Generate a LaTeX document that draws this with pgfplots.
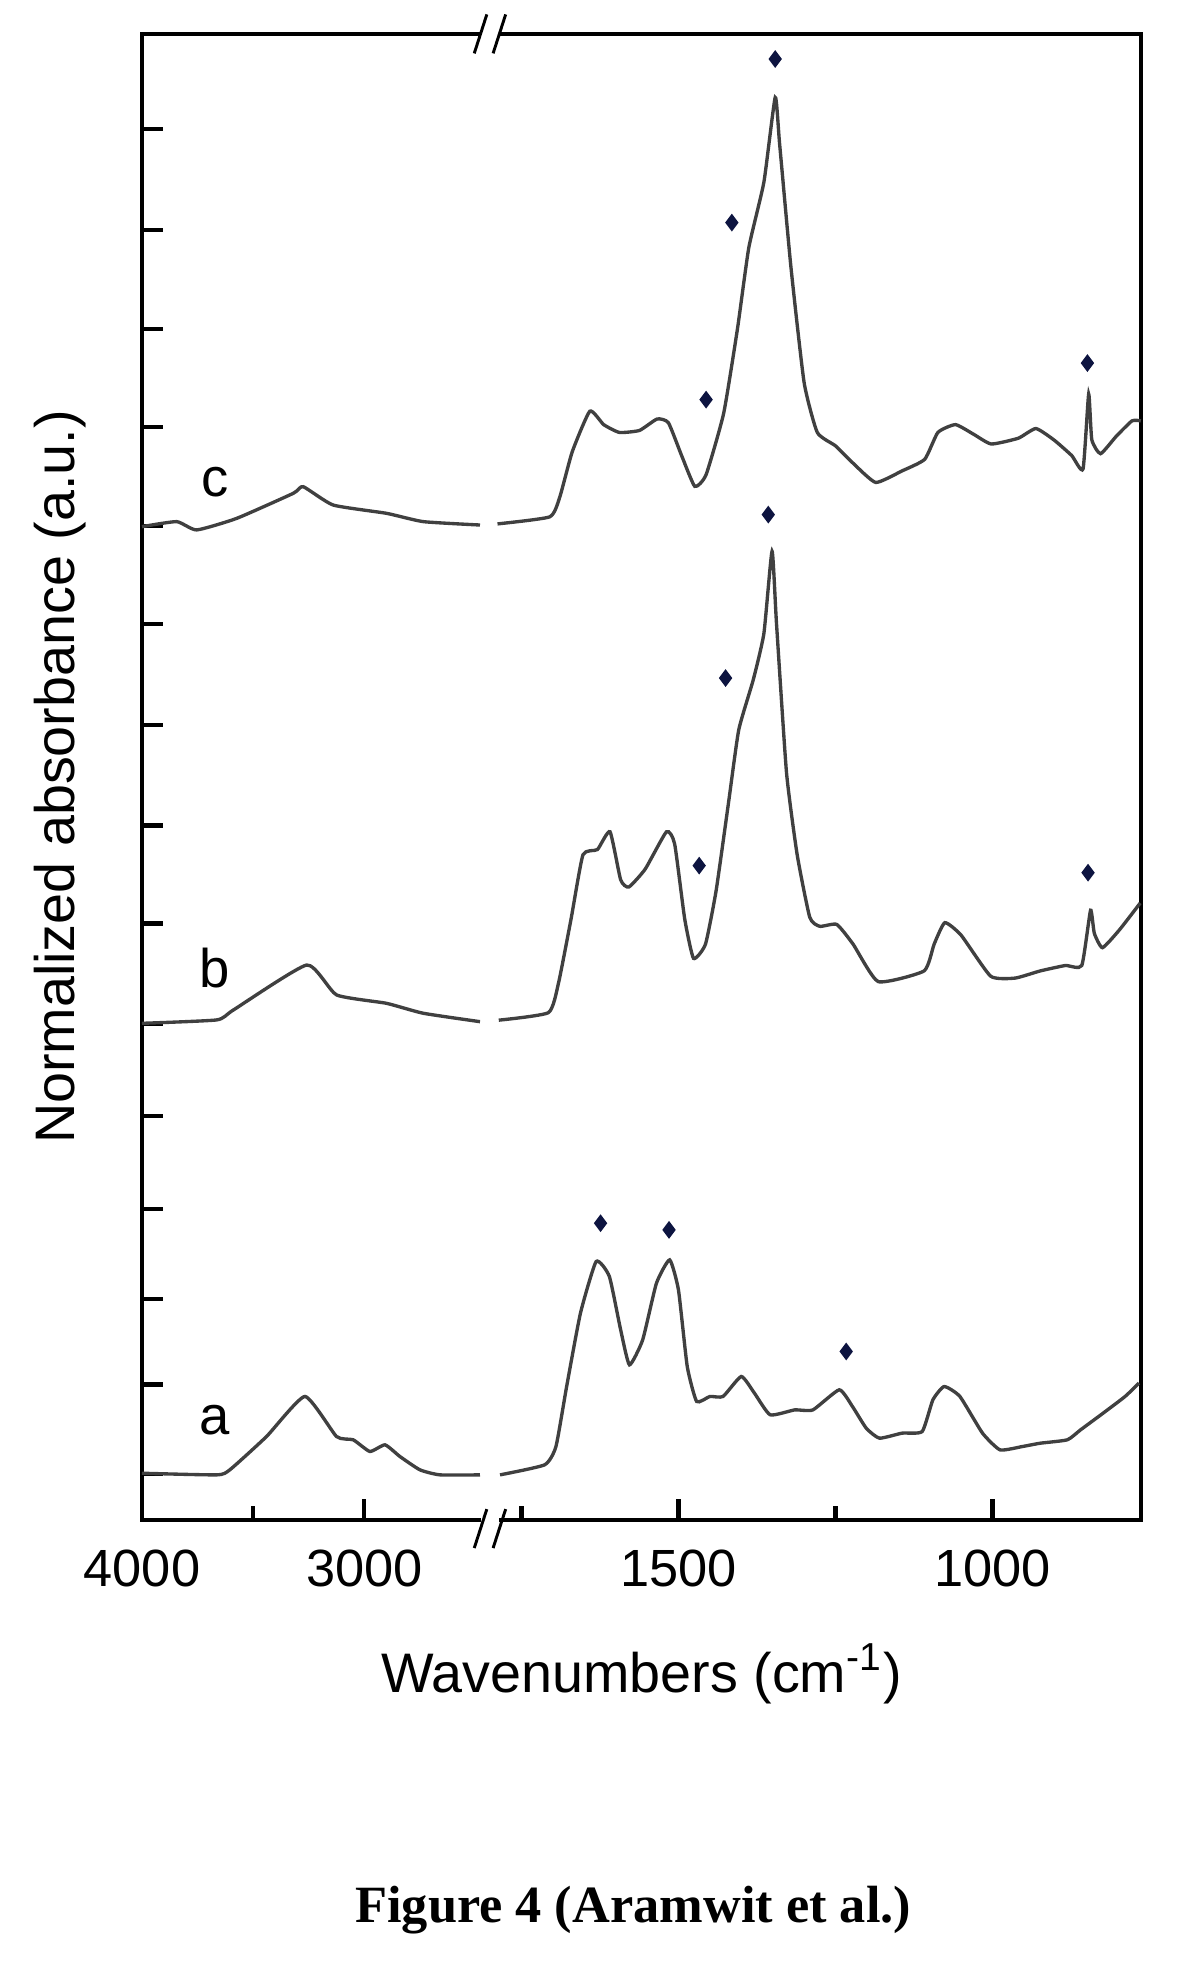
\documentclass[border=0pt]{standalone}
\usepackage{fontspec}
\setmainfont{Liberation Sans}
\newfontfamily\capfont{Liberation Serif}
\usepackage{pgfplots}
\pgfplotsset{compat=1.18}

\definecolor{curve}{rgb}{0.25,0.25,0.25}
\definecolor{star}{rgb}{0.05,0.08,0.25}

\begin{document}
\begin{tikzpicture}
\begin{axis}[
    scale only axis,
    width=238.5pt, height=354.9pt,
    % broken wavenumber axis: 4000-2450 compressed, 1800-760 expanded
    x coord trafo/.code={\pgfmathparse{ifthenelse(#1>2000,(4000-#1)*0.177,277+(1800-#1)*0.5)}},
    xmin=4000, xmax=764,
    ymin=0, ymax=1183,
    xtick={4000,3000,1500,1000},
    xticklabels={4000,3000,1500,1000},
    minor xtick={3500,1750,1250},
    ytick={37,108,176,248,322,395,475,553,633,713,791,870,948,1027,1107},
    yticklabels={},
    xtick pos=bottom, ytick pos=left,
    tick align=inside,
    major tick length=5pt, minor tick length=3.3pt,
    axis line style={line width=1pt},
    every tick/.style={black, line width=1pt},
    every minor tick/.style={black, line width=1pt},
    xticklabel style={font=\fontsize{12.5}{14}\selectfont, yshift=-3.5pt},
    xlabel={Wavenumbers (cm\textsuperscript{-1})},
    ylabel={Normalized absorbance (a.u.)},
    label style={font=\fontsize{13.3}{15}\selectfont},
    xlabel style={at={(axis description cs:0.5,-0.1031)}, anchor=center},
    ylabel style={at={(axis description cs:-0.0818,0.5)}, anchor=center},
    unbounded coords=jump,
    clip=false,
    spectrum/.style={curve, line width=0.8pt, smooth, tension=0.3},
]
% curve a
\addplot[spectrum] coordinates {
(4000,37.4) (3664,36.1) (3605,40.1) (3440,66.6) (3267,98.5) (3125,66.6) (3050,64)
(2975,54.7) (2907,60) (2840,50.7) (2750,40.1) (2660,36.1) (2480,36.1)
(2000,nan)
(1784,36.1) (1713,44.1) (1695,58.7) (1678,106.4) (1656,164.8) (1631,205.9) (1610,194)
(1592,151.5) (1578,123.7) (1557,143.5) (1535,188.7) (1514,207.2) (1500,183.3) (1486,122.3)
(1471,94.5) (1450,98.5) (1429,98.5) (1400,114.4) (1379,101.1) (1354,83.9) (1315,87.8)
(1286,87.8) (1244,103.8) (1223,90.5) (1201,73.2) (1180,65.3) (1144,69.3) (1112,70.6)
(1095,95.8) (1077,106.4) (1052,98.5) (1016,69.3) (988,56) (952,58.7) (924,61.3)
(881,64) (860,71.9) (824,85.2) (789,98.5) (767,109.1)
};
% curve b
\addplot[spectrum] coordinates {
(4000,395.5) (3664,398.2) (3589,406.1) (3259,441.9) (3125,418.1) (2900,411.4) (2735,403.5)
(2480,396.8)
(2000,nan)
(1786,398) (1707,404) (1691,427.4) (1671,478.4) (1652,529.6) (1629,533.8) (1609,548)
(1592,509.7) (1579,504) (1553,518.2) (1519,548) (1506,538.1) (1490,478.4) (1476,447.2)
(1457,458.5) (1440,501.2) (1420,572.2) (1404,629.1) (1381,668.8) (1364,705.8) (1351,771.2)
(1344,714.3) (1328,595) (1311,529.6) (1291,479.9) (1275,472.7) (1248,474.2) (1222,458.5)
(1182,428.7) (1109,437.2) (1093,458.5) (1076,475.6) (1050,465.6) (1003,433) (964,431.5)
(924,437.2) (884,441.5) (858,441.5) (844,485.5) (838,467.1) (825,455.7) (798,469.9)
(765,491.2)
};
% curve c
\addplot[spectrum] coordinates {
(4000,790.8) (3844,794.8) (3754,788.2) (3574,797.4) (3320,817.3) (3275,822.6) (3140,808)
(2900,801.4) (2735,794.8) (2480,792.1)
(2000,nan)
(1788,793) (1705,798.6) (1689,814.2) (1669,850.5) (1641,882.7) (1619,872) (1594,865.8)
(1562,867.4) (1534,876.5) (1516,873.5) (1495,847.4) (1474,822.9) (1456,832.2) (1428,881.1)
(1406,948.5) (1388,1012.9) (1364,1065) (1346,1132.4) (1339,1095.6) (1321,997.6) (1300,905.6)
(1279,865.8) (1250,855.1) (1222,841.3) (1186,826) (1144,835.2) (1108,844.4) (1087,865.8)
(1059,872) (1030,864.3) (1002,856.6) (959,861.2) (931,868.9) (902,859.7) (874,847.4)
(856,836.7) (847,896.4) (842,860) (828,848.9) (803,862.8) (778,875) (764,875)
};
% band markers
\addplot[only marks, mark=diamond*, mark size=1.8pt, color=star] coordinates {
(1624,236.4) (1515,231.1) (1233,134.3)
(1357,800.4) (1425,670.3) (1467,521) (848,515.4)
(1346,1163) (1415,1032.8) (1456,891.9) (849,921)
};
\node[font=\fontsize{13}{15}\selectfont] at (3672,79.9) {a};
\node[font=\fontsize{13}{15}\selectfont] at (3672,439.3) {b};
\node[font=\fontsize{13}{15}\selectfont] at (3672,826.6) {c};
\node[font=\capfont\bfseries\fontsize{12.5}{14}\selectfont] at (axis description cs:0.4918,-0.262) {Figure 4 (Aramwit et al.)};
\coordinate (ll) at (rel axis cs:0,0);
\coordinate (bb) at (rel axis cs:0.3484,0);
\coordinate (bt) at (rel axis cs:0.3484,1);
\end{axis}
% axis break marks
\foreach \p/\dy in {bt/0pt, bb/-2pt}{
  \fill[white] ([xshift=-2.2pt,yshift=-1.2pt]\p) rectangle ([xshift=2.2pt,yshift=1.2pt]\p);
  \draw[line width=0.7pt] ([xshift=-3.75pt,yshift=-4.65pt+\dy]\p) -- ([xshift=-0.75pt,yshift=4.65pt+\dy]\p);
  \draw[line width=0.7pt] ([xshift=0.75pt,yshift=-4.65pt+\dy]\p) -- ([xshift=3.75pt,yshift=4.65pt+\dy]\p);
}
\pgfresetboundingbox
\path[use as bounding box] ([xshift=-33.9pt,yshift=-107.4pt]ll) rectangle ([xshift=252.6pt,yshift=363pt]ll);
\end{tikzpicture}
\end{document}
